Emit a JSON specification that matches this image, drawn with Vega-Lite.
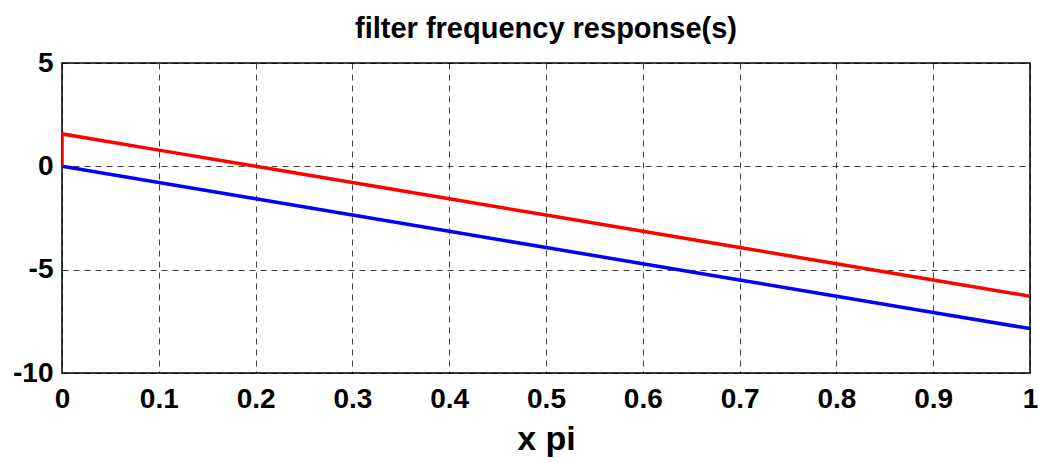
{
  "$schema": "https://vega.github.io/schema/vega-lite/v6.json",
  "width": 968,
  "height": 310,
  "autosize": {"type": "none"},
  "padding": {"left": 62, "top": 63, "right": 8, "bottom": 89},
  "background": "white",
  "title": {
    "text": "filter frequency response(s)",
    "font": "Liberation Sans",
    "fontSize": 29,
    "fontWeight": "bold",
    "color": "#000",
    "offset": 5,
    "anchor": "middle"
  },
  "config": {
    "view": {"stroke": "#000", "strokeWidth": 1.5},
    "axis": {
      "labelFont": "Liberation Sans",
      "labelFontSize": 28,
      "labelFontWeight": "bold",
      "labelColor": "#000",
      "titleFont": "Liberation Sans",
      "titleFontWeight": "bold",
      "titleColor": "#000",
      "grid": true,
      "gridColor": "#000",
      "gridDash": [6, 5],
      "gridOpacity": 0.75,
      "gridWidth": 1,
      "domain": false,
      "ticks": false,
      "labelExpr": "'' + datum.value"
    }
  },
  "data": {
    "values": [
      {"s": "blue", "i": 0, "x": 0.0, "y": 0.0},
      {"s": "blue", "i": 1, "x": 0.1, "y": -0.785},
      {"s": "blue", "i": 2, "x": 0.2, "y": -1.571},
      {"s": "blue", "i": 3, "x": 0.3, "y": -2.356},
      {"s": "blue", "i": 4, "x": 0.4, "y": -3.142},
      {"s": "blue", "i": 5, "x": 0.5, "y": -3.927},
      {"s": "blue", "i": 6, "x": 0.6, "y": -4.712},
      {"s": "blue", "i": 7, "x": 0.7, "y": -5.498},
      {"s": "blue", "i": 8, "x": 0.8, "y": -6.283},
      {"s": "blue", "i": 9, "x": 0.9, "y": -7.069},
      {"s": "blue", "i": 10, "x": 1.0, "y": -7.854},
      {"s": "red", "i": 0, "x": 0.0, "y": 0.0},
      {"s": "red", "i": 1, "x": 0.0, "y": 1.571},
      {"s": "red", "i": 2, "x": 0.1, "y": 0.785},
      {"s": "red", "i": 3, "x": 0.2, "y": 0.0},
      {"s": "red", "i": 4, "x": 0.3, "y": -0.785},
      {"s": "red", "i": 5, "x": 0.4, "y": -1.571},
      {"s": "red", "i": 6, "x": 0.5, "y": -2.356},
      {"s": "red", "i": 7, "x": 0.6, "y": -3.142},
      {"s": "red", "i": 8, "x": 0.7, "y": -3.927},
      {"s": "red", "i": 9, "x": 0.8, "y": -4.712},
      {"s": "red", "i": 10, "x": 0.9, "y": -5.498},
      {"s": "red", "i": 11, "x": 1.0, "y": -6.283}
    ]
  },
  "mark": {"type": "line", "strokeWidth": 3.5, "clip": true},
  "encoding": {
    "x": {
      "field": "x",
      "type": "quantitative",
      "scale": {"domain": [0, 1], "nice": false},
      "axis": {
        "values": [0, 0.1, 0.2, 0.3, 0.4, 0.5, 0.6, 0.7, 0.8, 0.9, 1],
        "labelPadding": 12,
        "labelFlush": false,
        "title": "x pi",
        "titleFontSize": 34,
        "titlePadding": 9
      }
    },
    "y": {
      "field": "y",
      "type": "quantitative",
      "scale": {"domain": [-10, 5], "nice": false},
      "axis": {
        "values": [-10, -5, 0, 5],
        "labelPadding": 9,
        "labelFlush": false,
        "title": null
      }
    },
    "order": {"field": "i", "type": "quantitative"},
    "color": {
      "field": "s",
      "type": "nominal",
      "scale": {"domain": ["blue", "red"], "range": ["#0000ff", "#ff0000"]},
      "legend": null
    }
  }
}
